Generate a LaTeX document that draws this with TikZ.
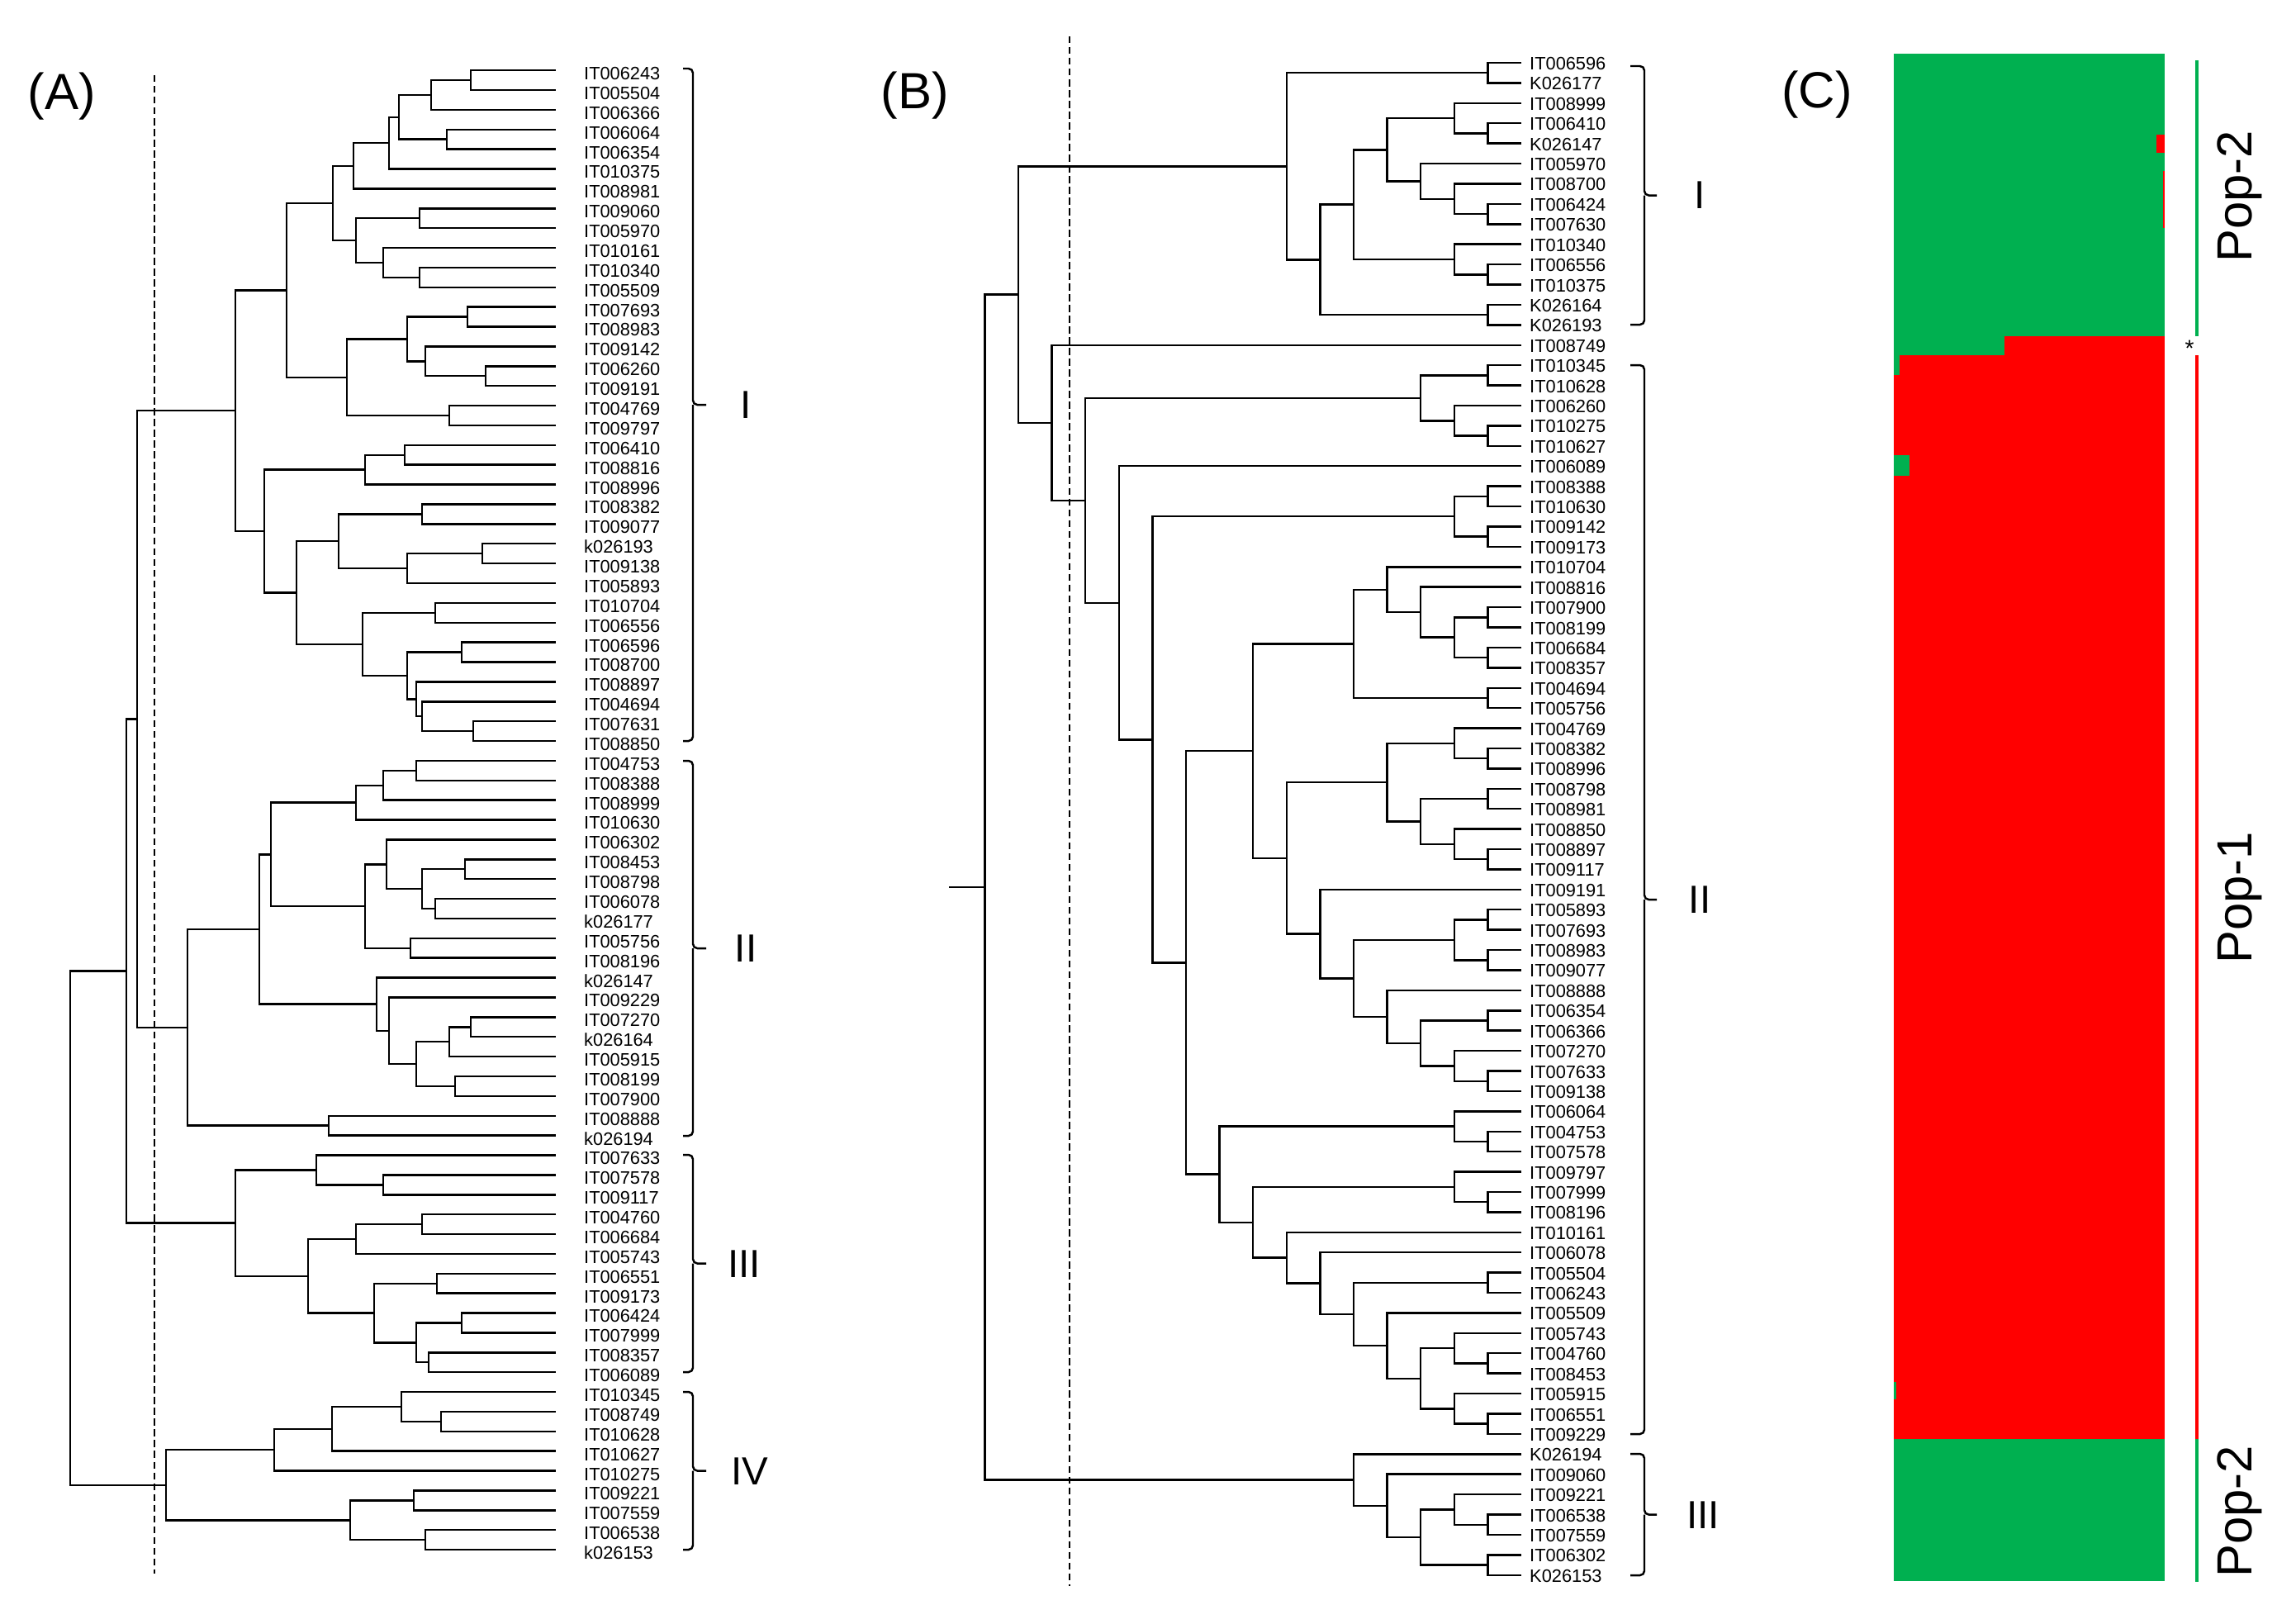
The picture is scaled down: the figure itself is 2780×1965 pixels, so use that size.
\documentclass[tikz,border=0pt]{standalone}
\usepackage{fontspec}
\setmainfont{Liberation Sans}
\usetikzlibrary{calc}
\definecolor{cgreen}{HTML}{00B050}
\definecolor{cred}{HTML}{FF0000}
\tikzset{
  every picture/.style={line width=0.7pt},
  branch/.style={draw=black, line width=0.7pt},
  leaf/.style={anchor=west, inner sep=0pt, font=\fontsize{6.2}{7}\selectfont},
  cut/.style={dash pattern=on 2.4pt off 1.3pt, line width=0.6pt},
  brak/.style={line width=0.7pt, rounded corners=1.5pt},
  clus/.style={font=\fontsize{13.5}{15}\selectfont, inner sep=0pt},
  panel/.style={font=\fontsize{17.5}{20}\selectfont, inner sep=0pt},
  pop/.style={font=\fontsize{17}{19}\selectfont, rotate=90, inner sep=0pt},
  popline/.style={line width=1.3pt},
}
% join two children at x = #2
\newcommand\clade[4]{%
  \pgfmathsetmacro\cladex{#2}%
  \coordinate (#1-m) at ($(#3)!0.5!(#4)$);
  \coordinate (#1) at (\cladex,0 |- #1-m);
  \draw[branch] (#3) -| (#1) |- (#4);
}
% bracket: hook x, line x, tick x, top y, bottom y
\newcommand\grpbrak[5]{%
  \draw[brak] (#1,#4) -| (#2,{(#4+#5)/2}) -- (#3,{(#4+#5)/2});
  \draw[brak] (#1,#5) -| (#2,{(#4+#5)/2});
}
\begin{document}
\begin{tikzpicture}[x=0.01cm, y=-0.01cm]
  \useasboundingbox (0,0) rectangle (2780,1965);
  % ---------------- (A) ----------------
  \node[panel] (pA) at (75,117) {(A)};
  \foreach \lab [count=\i] in {IT006243, IT005504, IT006366, IT006064, IT006354, IT010375, IT008981, IT009060, IT005970, IT010161,
    IT010340, IT005509, IT007693, IT008983, IT009142, IT006260, IT009191, IT004769, IT009797, IT006410,
    IT008816, IT008996, IT008382, IT009077, k026193, IT009138, IT005893, IT010704, IT006556, IT006596,
    IT008700, IT008897, IT004694, IT007631, IT008850, IT004753, IT008388, IT008999, IT010630, IT006302,
    IT008453, IT008798, IT006078, k026177, IT005756, IT008196, k026147, IT009229, IT007270, k026164,
    IT005915, IT008199, IT007900, IT008888, k026194, IT007633, IT007578, IT009117, IT004760, IT006684,
    IT005743, IT006551, IT009173, IT006424, IT007999, IT008357, IT006089, IT010345, IT008749, IT010628,
    IT010627, IT010275, IT009221, IT007559, IT006538, k026153} {
    \coordinate (a\i) at (673, {85.1+(\i-1)*23.88});
    \node[leaf] (la\i) at (706, {89+(\i-1)*23.88}) {\lab};
  }
  % cluster I
  \clade{A1}{570}{a1}{a2}
  \clade{A2}{522}{A1}{a3}
  \clade{A3}{541}{a4}{a5}
  \clade{A4}{483}{A2}{A3}
  \clade{A5}{471}{A4}{a6}
  \clade{A6}{428}{A5}{a7}
  \clade{A7}{508}{a8}{a9}
  \clade{A8}{508}{a11}{a12}
  \clade{A9}{464}{a10}{A8}
  \clade{A10}{431}{A7}{A9}
  \clade{A11}{403}{A6}{A10}
  \clade{A12}{566}{a13}{a14}
  \clade{A13}{588}{a16}{a17}
  \clade{A14}{515}{a15}{A13}
  \clade{A15}{493}{A12}{A14}
  \clade{A16}{544}{a18}{a19}
  \clade{A17}{420}{A15}{A16}
  \clade{A18}{347}{A11}{A17}
  \clade{A19}{490}{a20}{a21}
  \clade{A20}{442}{A19}{a22}
  \clade{A21}{511}{a23}{a24}
  \clade{A22}{584}{a25}{a26}
  \clade{A23}{493}{A22}{a27}
  \clade{A24}{410}{A21}{A23}
  \clade{A25}{527}{a28}{a29}
  \clade{A26}{559}{a30}{a31}
  \clade{A27}{573}{a34}{a35}
  \clade{A28}{511}{a33}{A27}
  \clade{A29}{504}{a32}{A28}
  \clade{A30}{493}{A26}{A29}
  \clade{A31}{439}{A25}{A30}
  \clade{A32}{359}{A24}{A31}
  \clade{A33}{320}{A20}{A32}
  \clade{A34}{285}{A18}{A33}
  % cluster II
  \clade{A35}{504}{a36}{a37}
  \clade{A36}{464}{A35}{a38}
  \clade{A37}{431}{A36}{a39}
  \clade{A38}{563}{a41}{a42}
  \clade{A39}{527}{a43}{a44}
  \clade{A40}{511}{A38}{A39}
  \clade{A41}{468}{a40}{A40}
  \clade{A42}{497}{a45}{a46}
  \clade{A43}{442}{A41}{A42}
  \clade{A44}{328}{A37}{A43}
  \clade{A45}{570}{a49}{a50}
  \clade{A46}{544}{A45}{a51}
  \clade{A47}{551}{a52}{a53}
  \clade{A48}{504}{A46}{A47}
  \clade{A49}{471}{a48}{A48}
  \clade{A50}{456}{a47}{A49}
  \clade{A51}{314}{A44}{A50}
  \clade{A52}{398}{a54}{a55}
  \clade{A53}{227}{A51}{A52}
  % cluster III
  \clade{A54}{464}{a57}{a58}
  \clade{A55}{383}{a56}{A54}
  \clade{A56}{511}{a59}{a60}
  \clade{A57}{431}{A56}{a61}
  \clade{A58}{529}{a62}{a63}
  \clade{A59}{559}{a64}{a65}
  \clade{A60}{519}{a66}{a67}
  \clade{A61}{504}{A59}{A60}
  \clade{A62}{453}{A58}{A61}
  \clade{A63}{373}{A57}{A62}
  \clade{A64}{285}{A55}{A63}
  % cluster IV
  \clade{A65}{534}{a69}{a70}
  \clade{A66}{486}{a68}{A65}
  \clade{A67}{402}{A66}{a71}
  \clade{A68}{332}{A67}{a72}
  \clade{A69}{501}{a73}{a74}
  \clade{A70}{515}{a75}{a76}
  \clade{A71}{424}{A69}{A70}
  \clade{A72}{201}{A68}{A71}
  % upper joins
  \clade{A73}{166}{A34}{A53}
  \clade{A74}{153}{A73}{A64}
  \clade{A75}{85}{A74}{A72}
  \draw[cut] (187,91) -- (187,1905);
  \grpbrak{827}{839}{855}{83}{897}
  \grpbrak{827}{839}{855}{921}{1375}
  \grpbrak{827}{839}{855}{1398}{1661}
  \grpbrak{827}{839}{855}{1685}{1876}
  \node[clus] (gAI) at (903,490) {I};
  \node[clus] (gAII) at (903,1148) {II};
  \node[clus] (gAIII) at (901,1530) {III};
  \node[clus] (gAIV) at (908,1781) {IV};
  % ---------------- (B) ----------------
  \node[panel] (pB) at (1108,116) {(B)};
  \foreach \lab [count=\i] in {IT006596, K026177, IT008999, IT006410, K026147, IT005970, IT008700, IT006424, IT007630, IT010340,
    IT006556, IT010375, K026164, K026193, IT008749, IT010345, IT010628, IT006260, IT010275, IT010627,
    IT006089, IT008388, IT010630, IT009142, IT009173, IT010704, IT008816, IT007900, IT008199, IT006684,
    IT008357, IT004694, IT005756, IT004769, IT008382, IT008996, IT008798, IT008981, IT008850, IT008897,
    IT009117, IT009191, IT005893, IT007693, IT008983, IT009077, IT008888, IT006354, IT006366, IT007270,
    IT007633, IT009138, IT006064, IT004753, IT007578, IT009797, IT007999, IT008196, IT010161, IT006078,
    IT005504, IT006243, IT005509, IT005743, IT004760, IT008453, IT005915, IT006551, IT009229, K026194,
    IT009060, IT009221, IT006538, IT007559, IT006302, K026153} {
    \coordinate (b\i) at (1842, {76+(\i-1)*24.41});
    \node[leaf] (lb\i) at (1851, {77+(\i-1)*24.41}) {\lab};
  }
  % cluster I
  \clade{B1}{1842-40.6*1}{b1}{b2}
  \clade{B2}{1842-40.6*1}{b4}{b5}
  \clade{B3}{1842-40.6*2}{b3}{B2}
  \clade{B4}{1842-40.6*1}{b8}{b9}
  \clade{B5}{1842-40.6*2}{b7}{B4}
  \clade{B6}{1842-40.6*3}{b6}{B5}
  \clade{B7}{1842-40.6*4}{B3}{B6}
  \clade{B8}{1842-40.6*1}{b11}{b12}
  \clade{B9}{1842-40.6*2}{b10}{B8}
  \clade{B10}{1842-40.6*5}{B7}{B9}
  \clade{B11}{1842-40.6*1}{b13}{b14}
  \clade{B12}{1842-40.6*6}{B10}{B11}
  \clade{B13}{1842-40.6*7}{B1}{B12}
  % cluster II
  \clade{B14}{1842-40.6*1}{b16}{b17}
  \clade{B15}{1842-40.6*1}{b19}{b20}
  \clade{B16}{1842-40.6*2}{b18}{B15}
  \clade{B17}{1842-40.6*3}{B14}{B16}
  \clade{B18}{1842-40.6*1}{b22}{b23}
  \clade{B19}{1842-40.6*1}{b24}{b25}
  \clade{B20}{1842-40.6*2}{B18}{B19}
  \clade{B21}{1842-40.6*1}{b28}{b29}
  \clade{B22}{1842-40.6*1}{b30}{b31}
  \clade{B23}{1842-40.6*2}{B21}{B22}
  \clade{B24}{1842-40.6*3}{b27}{B23}
  \clade{B25}{1842-40.6*4}{b26}{B24}
  \clade{B26}{1842-40.6*1}{b32}{b33}
  \clade{B27}{1842-40.6*5}{B25}{B26}
  \clade{B28}{1842-40.6*1}{b35}{b36}
  \clade{B29}{1842-40.6*2}{b34}{B28}
  \clade{B30}{1842-40.6*1}{b37}{b38}
  \clade{B31}{1842-40.6*1}{b40}{b41}
  \clade{B32}{1842-40.6*2}{b39}{B31}
  \clade{B33}{1842-40.6*3}{B30}{B32}
  \clade{B34}{1842-40.6*4}{B29}{B33}
  \clade{B35}{1842-40.6*1}{b43}{b44}
  \clade{B36}{1842-40.6*1}{b45}{b46}
  \clade{B37}{1842-40.6*2}{B35}{B36}
  \clade{B38}{1842-40.6*1}{b48}{b49}
  \clade{B39}{1842-40.6*1}{b51}{b52}
  \clade{B40}{1842-40.6*2}{b50}{B39}
  \clade{B41}{1842-40.6*3}{B38}{B40}
  \clade{B42}{1842-40.6*4}{b47}{B41}
  \clade{B43}{1842-40.6*5}{B37}{B42}
  \clade{B44}{1842-40.6*6}{b42}{B43}
  \clade{B45}{1842-40.6*7}{B34}{B44}
  \clade{B46}{1842-40.6*8}{B27}{B45}
  \clade{B47}{1842-40.6*1}{b54}{b55}
  \clade{B48}{1842-40.6*2}{b53}{B47}
  \clade{B49}{1842-40.6*1}{b57}{b58}
  \clade{B50}{1842-40.6*2}{b56}{B49}
  \clade{B51}{1842-40.6*1}{b61}{b62}
  \clade{B52}{1842-40.6*1}{b65}{b66}
  \clade{B53}{1842-40.6*2}{b64}{B52}
  \clade{B54}{1842-40.6*1}{b68}{b69}
  \clade{B55}{1842-40.6*2}{b67}{B54}
  \clade{B56}{1842-40.6*3}{B53}{B55}
  \clade{B57}{1842-40.6*4}{b63}{B56}
  \clade{B58}{1842-40.6*5}{B51}{B57}
  \clade{B59}{1842-40.6*6}{b60}{B58}
  \clade{B60}{1842-40.6*7}{b59}{B59}
  \clade{B61}{1842-40.6*8}{B50}{B60}
  \clade{B62}{1842-40.6*9}{B48}{B61}
  \clade{B63}{1842-40.6*10}{B46}{B62}
  \clade{B64}{1842-40.6*11}{B20}{B63}
  \clade{B65}{1842-40.6*12}{b21}{B64}
  \clade{B66}{1842-40.6*13}{B17}{B65}
  \clade{B67}{1842-40.6*14}{b15}{B66}
  \clade{B68}{1842-40.6*15}{B13}{B67}
  % cluster III
  \clade{B69}{1842-40.6*1}{b73}{b74}
  \clade{B70}{1842-40.6*2}{b72}{B69}
  \clade{B71}{1842-40.6*1}{b75}{b76}
  \clade{B72}{1842-40.6*3}{B70}{B71}
  \clade{B73}{1842-40.6*4}{b71}{B72}
  \clade{B74}{1842-40.6*5}{b70}{B73}
  \clade{B75}{1842-40.6*16}{B68}{B74}
  \coordinate (Broot) at (1149,0 |- B75);
  \draw[branch] (B75) -- (Broot);
  \draw[cut] (1295,44) -- (1295,1920);
  \grpbrak{1974}{1991}{2006}{80}{393}
  \grpbrak{1974}{1991}{2006}{442}{1736}
  \grpbrak{1974}{1991}{2006}{1760}{1907}
  \node[clus] (gBI) at (2058,236) {I};
  \node[clus] (gBII) at (2058,1089) {II};
  \node[clus] (gBIII) at (2062,1834) {III};
  % ---------------- (C) ----------------
  \node[panel] (pC) at (2200,115) {(C)};
  \fill[cgreen] (2293,65) rectangle (2621,407);
  \fill[cred] (2611,163) rectangle (2621,185);
  \fill[cred] (2619,207) rectangle (2621,276);
  \fill[cgreen] (2293,407) rectangle (2427,430);
  \fill[cred] (2427,407) rectangle (2621,430);
  \fill[cred] (2293,430) rectangle (2621,1742);
  \fill[cgreen] (2293,430) rectangle (2300,454);
  \fill[cgreen] (2293,551) rectangle (2312,576);
  \fill[cgreen] (2293,1673) rectangle (2296,1694);
  \fill[cgreen] (2293,1742) rectangle (2621,1914);
  \draw[popline, cgreen] (2660,73) -- (2660,407);
  \draw[popline, cred] (2660,430) -- (2660,1742);
  \draw[popline, cgreen] (2660,1742) -- (2660,1915);
  \node[font=\fontsize{8}{9}\selectfont, inner sep=0pt] (star) at (2651,422) {*};
  \node[pop] (pop2a) at (2712,238) {Pop-2};
  \node[pop] (pop1) at (2712,1087) {Pop-1};
  \node[pop] (pop2b) at (2712,1830) {Pop-2};
\end{tikzpicture}
\end{document}
